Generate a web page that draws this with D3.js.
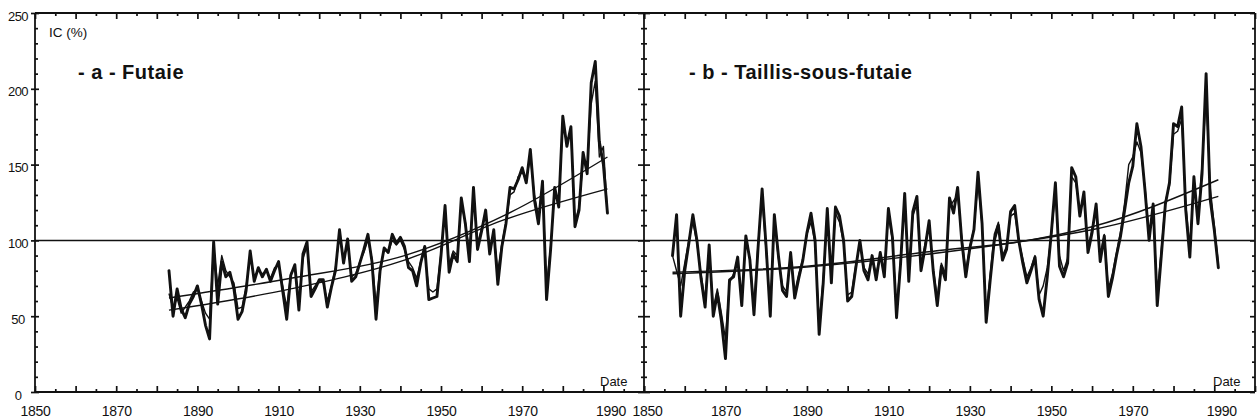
<!DOCTYPE html>
<html><head><meta charset="utf-8">
<script src="https://cdn.jsdelivr.net/npm/d3@7"></script>
<style>
html,body{margin:0;padding:0;background:#fff;}
svg{display:block;font-family:"Liberation Sans",Arial,Helvetica,sans-serif;}
</style></head><body>
<svg id="chart" width="1260" height="420"></svg>
<script>
// ---------- DATA ----------
const xTickLabels = [1850, 1870, 1890, 1910, 1930, 1950, 1970, 1990];
const yTickLabels = [0, 50, 100, 150, 200, 250];
const panelTitles = ["- a - Futaie", "- b - Taillis-sous-futaie"];
const yAxisTitle = "IC (%)";
const xAxisTitle = "Date";
const referenceLevel = 100;

// Panel a - Futaie (annual values, first year 1883)
const futaieStart = 1883;
const futaieThick = [
  80, 50, 68, 55, 49, 58, 63, 70, 58, 44,
  35, 99, 58, 86, 76, 79, 68, 48, 53, 67,
  93, 73, 82, 76, 81, 73, 80, 86, 67, 48,
  77, 84, 54, 91, 99, 63, 68, 74, 74, 56,
  69, 80, 107, 85, 101, 73, 76, 85, 94, 104,
  86, 48, 80, 95, 92, 104, 98, 102, 96, 82,
  80, 70, 85, 96, 61, 62, 63, 90, 123, 79,
  91, 86, 128, 111, 86, 135, 94, 106, 120, 91,
  107, 71, 96, 111, 135, 134, 140, 148, 138, 160,
  127, 111, 139, 61, 94, 135, 122, 182, 162, 175,
  109, 120, 158, 144, 204, 218, 165, 150, 118
];
const futaieThin = [
  65, 55, 62, 52, 56, 60, 66, 68, 60, 52,
  48, 96, 70, 90, 80, 76, 72, 55, 56, 70,
  88, 76, 80, 78, 80, 75, 82, 84, 70, 56,
  78, 82, 60, 88, 96, 66, 70, 74, 72, 60,
  70, 82, 103, 88, 98, 76, 78, 86, 92, 100,
  88, 58, 82, 94, 92, 100, 97, 100, 94, 86,
  82, 75, 86, 92, 68, 66, 68, 92, 118, 84,
  93, 90, 124, 112, 92, 130, 98, 108, 118, 96,
  104, 80, 98, 112, 130, 132, 142, 145, 140, 155,
  130, 116, 136, 70, 96, 132, 126, 175, 165, 170,
  112, 122, 152, 148, 190, 205, 155, 162, 118
];
const futaieTrendUpper = [[1883, 62], [1913, 75], [1941, 90], [1966, 117], [1991, 155]];
const futaieTrendLower = [[1883, 54], [1913, 68], [1941, 87], [1966, 114], [1991, 134]];

// Panel b - Taillis-sous-futaie (annual values, first year 1857)
const taillisStart = 1857;
const taillisThick = [
  90, 117, 50, 80, 98, 117, 100, 75, 56, 97,
  50, 65, 47, 22, 74, 76, 89, 57, 103, 87,
  51, 95, 134, 95, 50, 117, 90, 67, 63, 92,
  62, 75, 87, 105, 118, 100, 38, 72, 121, 72,
  122, 116, 100, 60, 63, 82, 100, 80, 74, 90,
  74, 92, 76, 121, 102, 49, 85, 131, 73, 119,
  129, 80, 95, 113, 80, 57, 83, 74, 128, 118,
  135, 100, 76, 95, 107, 145, 111, 46, 74, 100,
  110, 87, 94, 119, 123, 100, 85, 72, 80, 89,
  61, 50, 76, 105, 138, 83, 76, 85, 148, 142,
  116, 132, 92, 105, 124, 86, 103, 63, 75, 90,
  103, 120, 138, 149, 177, 162, 133, 100, 124, 57,
  90, 124, 138, 177, 175, 188, 120, 89, 142, 111,
  144, 210, 127, 107, 82
];
const taillisThin = [
  90, 80, 70, 85, 100, 112, 98, 78, 60, 94,
  55, 68, 52, 35, 72, 78, 86, 62, 100, 88,
  56, 98, 128, 92, 55, 112, 88, 70, 66, 90,
  66, 78, 88, 104, 112, 98, 45, 75, 116, 76,
  118, 112, 98, 64, 66, 84, 98, 82, 78, 88,
  78, 90, 80, 116, 100, 55, 88, 126, 78, 116,
  124, 84, 98, 110, 82, 62, 85, 78, 122, 126,
  130, 102, 80, 96, 108, 138, 110, 52, 78, 104,
  112, 90, 96, 116, 118, 100, 88, 76, 82, 90,
  64, 70, 82, 104, 132, 90, 80, 88, 142, 138,
  120, 128, 95, 108, 120, 90, 104, 68, 78, 92,
  106, 125, 150, 155, 165, 158, 135, 104, 120, 64,
  94, 126, 136, 170, 172, 180, 124, 95, 138, 115,
  150, 195, 135, 110, 85
];
const taillisTrendUpper = [[1857, 79], [1890, 83], [1923, 93.5], [1942, 99], [1960, 109], [1991, 140]];
const taillisTrendLower = [[1857, 78], [1890, 82.5], [1923, 92], [1942, 99], [1960, 107], [1991, 129]];

// ---------- DRAWING ----------
const svg = d3.select("#chart");
const ink = "#111";
const yTop = 13, yBot = 392;
const y = d3.scaleLinear().domain([0, 250]).range([yBot, yTop]);
const xA = d3.scaleLinear().domain([1850, 2000]).range([35, 644]);
const xB = d3.scaleLinear().domain([1850, 2000]).range([644, 1255]);

const yMajor = d3.range(0, 251, 50);
const yMinor = d3.range(0, 251, 10).filter(v => v % 50 !== 0);
const xMajor = d3.range(1850, 2001, 10);
const xMinor = d3.range(1855, 2000, 10);

function styleAxis(g) {
  g.select(".domain").remove();
  g.selectAll("line").attr("stroke", ink).attr("stroke-width", 1.7);
  g.selectAll("text").attr("fill", ink);
}

function panel(x, thick, thin, start, trendU, trendL, title, opts) {
  const line = d3.line().x(d => x(d[0])).y(d => y(d[1])).curve(d3.curveLinear);
  const trend = d3.line().x(d => x(d[0])).y(d => y(d[1])).curve(d3.curveMonotoneX);
  const thickPts = thick.map((v, i) => [start + i, v]);
  const thinPts = thin.map((v, i) => [start + i, v]);

  // bottom axis ticks (inward)
  svg.append("g").attr("transform", `translate(0,${yBot})`)
    .call(d3.axisTop(x).tickValues(xMajor).tickSize(6).tickFormat("")).call(styleAxis);
  svg.append("g").attr("transform", `translate(0,${yBot})`)
    .call(d3.axisTop(x).tickValues(xMinor).tickSize(3).tickFormat("")).call(styleAxis);
  // top axis ticks (inward)
  svg.append("g").attr("transform", `translate(0,${yTop})`)
    .call(d3.axisBottom(x).tickValues(xMajor).tickSize(6).tickFormat("")).call(styleAxis);
  svg.append("g").attr("transform", `translate(0,${yTop})`)
    .call(d3.axisBottom(x).tickValues(xMinor).tickSize(3).tickFormat("")).call(styleAxis);
  // x labels
  const lab = svg.append("g").attr("transform", `translate(0,${yBot})`)
    .call(d3.axisBottom(x).tickValues(xTickLabels).tickSize(0).tickPadding(14).tickFormat(d3.format("d")))
    .call(styleAxis);
  lab.selectAll("text").attr("font-size", 14).attr("font-family", "Liberation Sans, Arial, sans-serif")
    .attr("letter-spacing", "-0.3")
    .attr("dx", d => d === 1990 ? 7 : (d === 1850 && opts.shiftFirst ? 3 : 0));

  // trend lines
  svg.append("path").datum(trendU).attr("d", trend).attr("fill", "none")
    .attr("stroke", ink).attr("stroke-width", 1.4);
  svg.append("path").datum(trendL).attr("d", trend).attr("fill", "none")
    .attr("stroke", ink).attr("stroke-width", 1.4);
  // series
  svg.append("path").datum(thinPts).attr("d", line).attr("fill", "none")
    .attr("stroke", ink).attr("stroke-width", 1.4).attr("stroke-linejoin", "round");
  svg.append("path").datum(thickPts).attr("d", line).attr("fill", "none")
    .attr("stroke", ink).attr("stroke-width", 2.9).attr("stroke-linejoin", "round")
    .attr("stroke-linecap", "round");

  // title
  svg.append("text").attr("x", opts.titleX).attr("y", 79)
    .attr("font-size", 20).attr("font-weight", "bold").attr("letter-spacing", "0.5")
    .attr("fill", ink).text(title);
  // Date label
  svg.append("text").attr("x", opts.dateX).attr("y", 386)
    .attr("font-size", 13).attr("fill", ink).text(xAxisTitle);
}

// left y axis (x=35)
svg.append("g").attr("transform", "translate(35,0)")
  .call(d3.axisRight(y).tickValues(yMajor).tickSize(4).tickFormat("")).call(styleAxis);
svg.append("g").attr("transform", "translate(35,0)")
  .call(d3.axisRight(y).tickValues(yMinor).tickSize(3).tickFormat("")).call(styleAxis);
const yl = svg.append("g").attr("transform", "translate(35,0)")
  .call(d3.axisLeft(y).tickValues(yTickLabels).tickSize(4).tickPadding(2).tickFormat(d3.format("d")))
  .call(styleAxis);
yl.selectAll("text").attr("font-size", 13).attr("text-anchor", "middle")
  .attr("x", -17).attr("dy", "0.55em").attr("letter-spacing", "-0.5");

// middle axis (x=644), ticks on both sides
[d3.axisLeft, d3.axisRight].forEach(ax => {
  svg.append("g").attr("transform", "translate(644,0)")
    .call(ax(y).tickValues(yMajor).tickSize(6).tickFormat("")).call(styleAxis);
  svg.append("g").attr("transform", "translate(644,0)")
    .call(ax(y).tickValues(yMinor).tickSize(3).tickFormat("")).call(styleAxis);
});
// right axis (x=1255)
svg.append("g").attr("transform", "translate(1255,0)")
  .call(d3.axisLeft(y).tickValues(yMajor).tickSize(5).tickFormat("")).call(styleAxis);
svg.append("g").attr("transform", "translate(1255,0)")
  .call(d3.axisLeft(y).tickValues(yMinor).tickSize(3).tickFormat("")).call(styleAxis);

// reference line at 100 across both panels
svg.append("line").attr("x1", xA(1850)).attr("x2", xB(2000))
  .attr("y1", y(referenceLevel)).attr("y2", y(referenceLevel))
  .attr("stroke", ink).attr("stroke-width", 1.5);

panel(xA, futaieThick, futaieThin, futaieStart, futaieTrendUpper, futaieTrendLower,
  panelTitles[0], {titleX: 78, dateX: 600, shiftFirst: false});
panel(xB, taillisThick, taillisThin, taillisStart, taillisTrendUpper, taillisTrendLower,
  panelTitles[1], {titleX: 689, dateX: 1213, shiftFirst: true});

// frame
const frame = svg.append("g").attr("fill", "none").attr("stroke", ink).attr("stroke-width", 1.8);
frame.append("line").attr("x1", xA(1850)).attr("x2", xB(2000)).attr("y1", yTop).attr("y2", yTop);
frame.append("line").attr("x1", xA(1850)).attr("x2", xB(2000)).attr("y1", yBot).attr("y2", yBot);
frame.append("line").attr("x1", xA(1850)).attr("x2", xA(1850)).attr("y1", yTop).attr("y2", yBot);
frame.append("line").attr("x1", xA(2000)).attr("x2", xA(2000)).attr("y1", yTop).attr("y2", yBot);
frame.append("line").attr("x1", xB(2000)).attr("x2", xB(2000)).attr("y1", yTop).attr("y2", yBot);

// y axis title
svg.append("text").attr("x", 49).attr("y", 37).attr("font-size", 13.5).attr("fill", ink).text(yAxisTitle);
</script>
</body></html>
